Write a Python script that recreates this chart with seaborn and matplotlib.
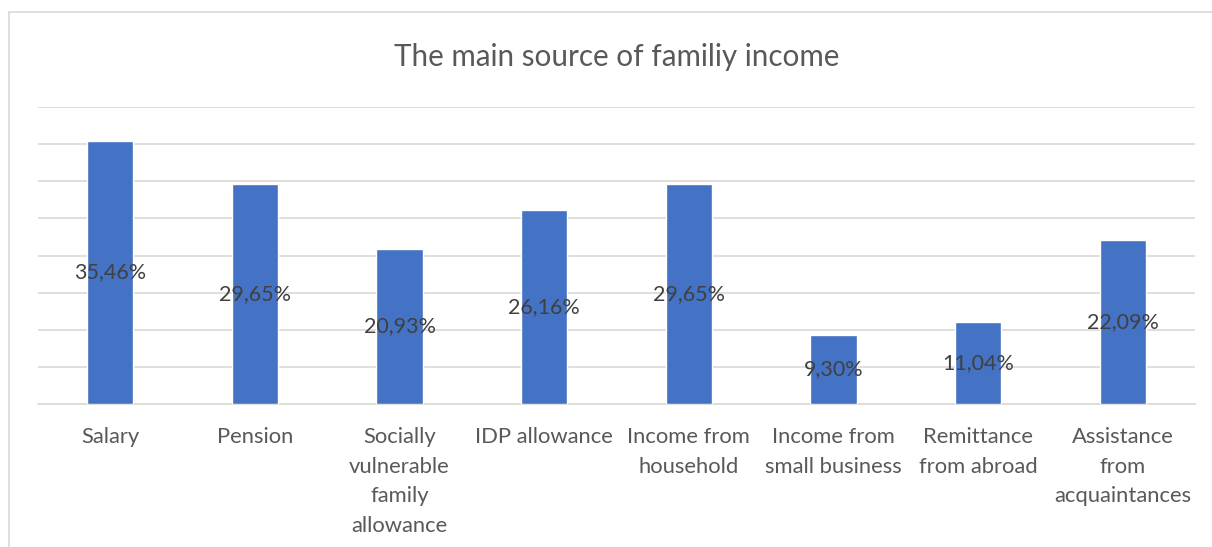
import matplotlib
matplotlib.use("Agg")
import matplotlib.pyplot as plt
from matplotlib.lines import Line2D
import seaborn as sns
import pandas as pd

categories = [
    "Salary",
    "Pension",
    "Socially\nvulnerable\nfamily\nallowance",
    "IDP allowance",
    "Income from\nhousehold",
    "Income from\nsmall business",
    "Remittance\nfrom abroad",
    "Assistance\nfrom\nacquaintances",
]
values = [35.46, 29.65, 20.93, 26.16, 29.65, 9.30, 11.04, 22.09]
title = "The main source of familiy income"

df = pd.DataFrame({"source": categories, "share": values})

sns.set_theme(style="white")
plt.rcParams["font.family"] = ["Lato", "DejaVu Sans"]

W, H, DPI = 1212, 547, 100
fig = plt.figure(figsize=(W / DPI, H / DPI), dpi=DPI)
ax = fig.add_axes([38 / W, 1 - 404 / H, (1195 - 38) / W, (404 - 107) / H])

sns.barplot(data=df, x="source", y="share", color="#4472C4", width=0.32,
            saturation=1, ax=ax, zorder=3)

ax.set_ylim(0, 40)
ax.set_yticks(range(0, 41, 5))
ax.yaxis.grid(True, color="#D9D9D9", linewidth=1.2, zorder=0)
ax.set_axisbelow(True)
ax.tick_params(axis="y", left=False, labelleft=False)
ax.tick_params(axis="x", bottom=False, pad=10.5, labelsize=15.8, colors="#595959")
for lbl in ax.get_xticklabels():
    lbl.set_linespacing(1.6)
    lbl.set_verticalalignment("top")
ax.set_xlabel("")
ax.set_ylabel("")
for side in ["top", "right", "left"]:
    ax.spines[side].set_visible(False)
ax.spines["bottom"].set_color("#D9D9D9")
ax.spines["bottom"].set_linewidth(1.2)

labels = [f"{v:.2f}".replace(".", ",") + "%" for v in values]
ax.bar_label(ax.containers[0], labels=labels, label_type="center",
             fontsize=15.5, color="#404040")

fig.text(616.5 / W, 1 - 57 / H, title, ha="center", va="center",
         fontsize=21.3, color="#595959")

# chart frame
fig.add_artist(Line2D([9 / W, 9 / W], [1 - 12 / H, 0], transform=fig.transFigure,
                      color="#D9D9D9", linewidth=1.2))
fig.add_artist(Line2D([9 / W, 1], [1 - 12 / H, 1 - 12 / H], transform=fig.transFigure,
                      color="#D9D9D9", linewidth=1.2))

fig.savefig("out.png", dpi=DPI, facecolor="white")
